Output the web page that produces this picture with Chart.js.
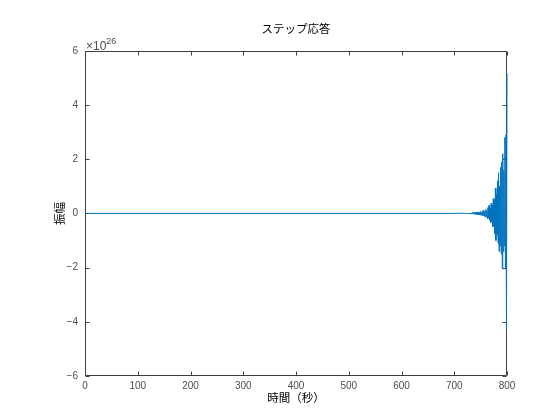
<!DOCTYPE html>
<html lang="ja">
<head>
    <meta charset="UTF-8">
    <title>ステップ応答</title>
    <script src="https://cdn.jsdelivr.net/npm/chart.js"></script>
    <style>
* {
    margin: 0;
    padding: 0;
}
body {
    background: #ffffff;
}
#wrap {
    width: 560px;
    height: 420px;
}
    </style>
</head>
<body>
    <div id="wrap"><canvas id="stepChart" width="560" height="420"></canvas></div>

    <script>
        // time (s)
        const timeSec = [0, 700,
            720, 721, 722, 723, 724, 725, 726, 727, 728, 729,
            730, 731, 732, 733, 734, 735, 736, 737, 738, 739,
            740, 741, 742, 743, 744, 745, 746, 747, 748, 749,
            750, 751, 752, 753, 754, 755, 756, 757, 758, 759,
            760, 761, 762, 763, 764, 765, 766, 767, 768, 769,
            770, 771, 772, 773, 774, 775, 776, 777, 778, 779,
            780, 781, 782, 783, 784, 785, 786, 787, 788, 789,
            790, 791, 792, 793, 794, 795, 796, 797, 798, 799, 800];
        // amplitude, in units of 1e26
        const amplitude = [0, 0,
            0.005, -0.005, 0.008, -0.006, 0.01, -0.008, 0.01, -0.012, 0.01, -0.01,
            0.015, -0.02, 0.015, -0.02, 0.025, -0.02, 0.03, -0.025, 0.02, -0.03,
            0.04, -0.03, 0.03, -0.045, 0.05, -0.04, 0.06, -0.05, 0.04, -0.06,
            0.07, -0.06, 0.05, -0.08, 0.10, -0.08, 0.12, -0.10, 0.08, -0.13,
            0.15, -0.12, 0.10, -0.20, 0.22, -0.18, 0.30, -0.25, 0.20, -0.35,
            0.38, -0.30, 0.30, -0.50, 0.55, -0.45, 0.50, -0.75, 0.93, -1.00,
            0.70, -0.80, 1.20, -1.10, 1.50, -1.40, 1.00, -1.20, 1.70, -1.50,
            1.90, -2.05, 2.20, -1.40, 1.60, -1.20, 2.80, -2.00, 2.90, -4.30, 5.16];
        const yExponent = '26';

        const xTitle = '時間（秒）';
        const yTitle = '振幅';
        const chartTitle = 'ステップ応答';

        const axisColor = '#404040';
        const labelColor = '#4d4d4d';
        const tickFont = { family: '"Liberation Sans", Arial, sans-serif', size: 10 };
        const jpFont = '"Noto Sans CJK JP", sans-serif';

        const points = timeSec.map((t, i) => ({ x: t, y: amplitude[i] }));

        // box round the plot + inward ticks on all four sides, like matlab
        const boxPlugin = {
            id: 'box',
            beforeDatasetsDraw(chart) {
                const { ctx, chartArea: a, scales: { x, y } } = chart;
                ctx.save();
                ctx.strokeStyle = axisColor;
                ctx.lineWidth = 1;
                ctx.beginPath();
                const l = Math.round(a.left) + 0.5, r = Math.round(a.right) - 0.5;
                const t = Math.round(a.top) + 0.5, b = Math.round(a.bottom) - 0.5;
                ctx.rect(l, t, r - l, b - t);
                x.ticks.forEach(tk => {
                    const px = Math.round(x.getPixelForValue(tk.value)) + 0.5;
                    ctx.moveTo(px, b); ctx.lineTo(px, b - 4);
                    ctx.moveTo(px, t); ctx.lineTo(px, t + 4);
                });
                y.ticks.forEach(tk => {
                    const py = Math.round(y.getPixelForValue(tk.value)) + 0.5;
                    ctx.moveTo(l, py); ctx.lineTo(l + 4, py);
                    ctx.moveTo(r, py); ctx.lineTo(r - 4, py);
                });
                ctx.stroke();

                // exponent label
                ctx.fillStyle = labelColor;
                ctx.textBaseline = 'alphabetic';
                ctx.textAlign = 'left';
                ctx.font = '12px "Liberation Sans", Arial, sans-serif';
                ctx.fillText('×10', a.left + 1, a.top - 1);
                const w = ctx.measureText('×10').width;
                ctx.font = '9px "Liberation Sans", Arial, sans-serif';
                ctx.fillText(yExponent, a.left + w + 1, a.top - 7);
                ctx.restore();
            }
        };

        const ctx = document.getElementById('stepChart').getContext('2d');
        const chart = new Chart(ctx, {
            type: 'line',
            data: {
                datasets: [{
                    data: points,
                    borderColor: '#0072BD',
                    borderWidth: 1,
                    pointRadius: 0,
                    tension: 0,
                    fill: false,
                    clip: false
                }]
            },
            options: {
                responsive: false,
                animation: false,
                layout: { padding: { left: 0, right: 53, top: 0, bottom: 0 } },
                plugins: {
                    legend: { display: false },
                    tooltip: { enabled: false },
                    title: {
                        display: true,
                        text: chartTitle,
                        fullSize: false,
                        color: '#000000',
                        font: { family: jpFont, size: 11.5, weight: 'normal', lineHeight: 1.2 },
                        padding: { top: 22, bottom: 15 }
                    }
                },
                scales: {
                    x: {
                        type: 'linear',
                        min: 0,
                        max: 800,
                        grid: { display: false, drawTicks: false },
                        border: { display: false },
                        ticks: { stepSize: 100, color: labelColor, font: tickFont, padding: 4, maxRotation: 0 },
                        title: {
                            display: true,
                            text: xTitle,
                            color: '#000000',
                            font: { family: jpFont, size: 11.5, lineHeight: 1.2 },
                            padding: { top: 0, bottom: 15 }
                        },
                        afterFit: s => { s.height = 44; }
                    },
                    y: {
                        min: -6,
                        max: 6,
                        grid: { display: false, drawTicks: false },
                        border: { display: false },
                        ticks: {
                            stepSize: 2,
                            color: labelColor,
                            font: tickFont,
                            padding: 7,
                            callback: v => String(v).replace('-', '\u2212')
                        },
                        title: {
                            display: true,
                            text: yTitle,
                            color: '#000000',
                            font: { family: jpFont, size: 11.5, lineHeight: 1.2 },
                            padding: { top: 53, bottom: 0 }
                        },
                        afterFit: s => { s.width = 85; }
                    }
                }
            },
            plugins: [boxPlugin]
        });
    </script>
</body>
</html>
